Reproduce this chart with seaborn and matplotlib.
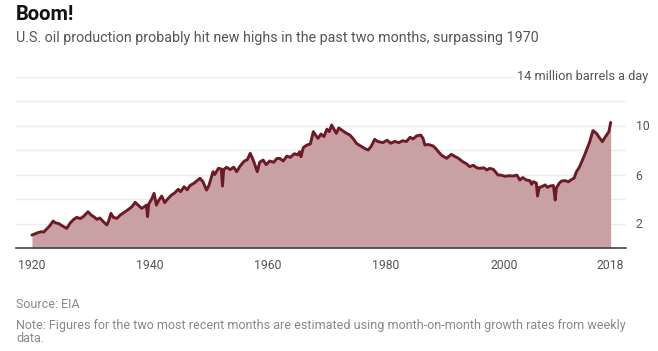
import pandas as pd
import matplotlib.pyplot as plt
import seaborn as sns

# U.S. crude oil production, million barrels a day
dates = [
    1920.0, 1920.5, 1921.0, 1921.6, 1922.0, 1922.5, 1923.0, 1923.6, 1924.0, 1924.5,
    1925.0, 1925.9, 1926.5, 1927.0, 1927.6, 1928.2, 1928.8, 1929.5, 1930.0, 1930.5,
    1931.0, 1931.5, 1932.0, 1932.7, 1933.0, 1933.4, 1933.8, 1934.4, 1935.0, 1935.8,
    1936.5, 1937.0, 1937.5, 1938.0, 1938.6, 1939.0, 1939.4, 1939.6, 1939.8, 1940.3,
    1940.7, 1941.1, 1941.5, 1942.0, 1942.5, 1943.0, 1943.6, 1944.2, 1944.8, 1945.2,
    1945.8, 1946.3, 1946.8, 1947.5, 1948.5, 1949.0, 1949.6, 1950.0, 1950.7, 1951.0,
    1951.6, 1952.1, 1952.3, 1952.5, 1953.0, 1953.6, 1954.2, 1954.7, 1955.3, 1956.0,
    1956.5, 1957.0, 1957.5, 1958.2, 1958.6, 1959.2, 1959.7, 1960.3, 1961.0, 1961.5,
    1962.0, 1962.6, 1963.2, 1963.8, 1964.5, 1965.0, 1965.4, 1965.6, 1966.0, 1966.6,
    1967.2, 1967.7, 1968.1, 1968.5, 1969.0, 1969.5, 1970.0, 1970.4, 1970.8, 1971.2,
    1971.6, 1972.0, 1972.5, 1973.2, 1973.9, 1974.5, 1975.0, 1975.8, 1976.5, 1977.0,
    1977.5, 1978.1, 1978.6, 1979.5, 1980.2, 1980.8, 1981.5, 1982.2, 1982.8, 1983.5,
    1984.1, 1984.6, 1985.2, 1985.9, 1986.3, 1986.6, 1987.2, 1988.0, 1988.5, 1989.0,
    1989.5, 1990.3, 1991.1, 1991.6, 1992.3, 1993.0, 1993.6, 1994.2, 1994.8, 1995.4,
    1995.9, 1996.6, 1997.1, 1997.6, 1998.2, 1998.6, 1999.0, 1999.5, 2000.2, 2000.8,
    2001.6, 2002.2, 2002.7, 2003.2, 2003.8, 2004.4, 2004.7, 2005.0, 2005.5, 2005.7,
    2006.0, 2006.4, 2007.0, 2007.4, 2007.8, 2008.4, 2008.7, 2008.9, 2009.4, 2009.8,
    2010.4, 2010.9, 2011.5, 2011.9, 2012.3, 2012.8, 2013.2, 2013.6, 2014.0, 2014.5,
    2015.1, 2015.7, 2016.2, 2016.7, 2017.1, 2017.4, 2017.8, 2018.1,
]
production = [
    1.06, 1.15, 1.25, 1.33, 1.30, 1.55, 1.80, 2.20, 2.05, 2.00,
    1.85, 1.60, 2.05, 2.30, 2.50, 2.40, 2.60, 2.96, 2.70, 2.55,
    2.34, 2.45, 2.20, 1.88, 2.20, 2.83, 2.50, 2.42, 2.70, 2.96,
    3.20, 3.40, 3.73, 3.50, 3.24, 3.35, 3.50, 2.56, 3.60, 4.00,
    4.46, 3.50, 3.90, 4.24, 3.70, 4.00, 4.30, 4.50, 4.79, 4.60,
    5.00, 4.75, 5.10, 5.30, 5.69, 5.40, 4.73, 5.10, 6.23, 6.00,
    6.50, 6.45, 5.06, 6.40, 6.59, 6.40, 6.60, 6.23, 6.70, 7.10,
    7.20, 7.73, 7.20, 6.23, 7.00, 7.18, 6.80, 7.10, 7.00, 7.30,
    7.32, 7.10, 7.50, 7.40, 7.70, 7.60, 7.86, 7.45, 8.20, 8.40,
    8.50, 9.50, 9.20, 8.95, 9.30, 9.10, 9.70, 9.50, 10.04, 9.70,
    9.36, 9.80, 9.63, 9.40, 9.22, 8.90, 8.54, 8.30, 8.10, 8.00,
    8.30, 8.87, 8.70, 8.60, 8.80, 8.55, 8.70, 8.60, 8.75, 8.70,
    9.04, 8.90, 9.15, 9.22, 8.95, 8.41, 8.45, 8.33, 8.10, 7.80,
    7.55, 7.32, 7.65, 7.50, 7.32, 7.05, 6.90, 6.64, 6.75, 6.55,
    6.50, 6.55, 6.37, 6.50, 6.42, 6.20, 5.96, 5.95, 5.85, 5.90,
    5.88, 5.95, 5.55, 5.75, 5.55, 5.50, 5.20, 5.41, 5.30, 4.24,
    4.95, 5.00, 5.15, 4.95, 5.06, 5.10, 3.92, 4.90, 5.30, 5.47,
    5.50, 5.40, 5.60, 5.70, 6.23, 6.60, 7.05, 7.50, 8.00, 8.60,
    9.58, 9.36, 9.00, 8.68, 9.00, 9.22, 9.50, 10.25,
]
year_ticks = [1920, 1940, 1960, 1980, 2000, 2018]
grid_levels = [2, 4, 6, 8, 10, 12]
label_levels = [2, 6, 10]

df = pd.DataFrame({'year': dates, 'mbd': production})

sns.set_style('white')
plt.rcParams['font.family'] = ['Roboto', 'DejaVu Sans']

fig = plt.figure(figsize=(6.58, 3.51), dpi=100)
ax = fig.add_axes([16 / 658, 103 / 351, 610 / 658, 171.5 / 351])

line_col = '#6e1a24'
fill_col = '#c9a1a4'

# light gridlines, the top one stops short of the unit label
for g in grid_levels:
    ax.axhline(g, color='#ececec', lw=1, zorder=0)
ax.axhline(14, xmax=0.815, color='#ececec', lw=1, zorder=0)

ax.fill_between(df['year'], df['mbd'], 0, color=fill_col, lw=0, zorder=1)
sns.lineplot(data=df, x='year', y='mbd', ax=ax, color=line_col, lw=2.1, zorder=2)

ax.set_xlim(1917.3, 2020.7)
ax.set_ylim(0, 14)
ax.set_xlabel('')
ax.set_ylabel('')

ax.set_xticks(year_ticks)
ax.set_xticklabels([str(y) for y in year_ticks], fontsize=8.8, color='#555555')
ax.tick_params(axis='x', length=4, width=1, color='#444444', pad=4)

ax.yaxis.tick_right()
ax.set_yticks(label_levels)
ax.set_yticklabels([str(v) for v in label_levels], fontsize=8.8, color='#555555')
ax.tick_params(axis='y', length=0, pad=7)

for side in ['top', 'left', 'right']:
    ax.spines[side].set_visible(False)
ax.spines['bottom'].set_color('#444444')
ax.spines['bottom'].set_linewidth(1.2)

ax.text(1.037, 14, '14 million barrels a day', transform=ax.get_yaxis_transform(),
        ha='right', va='center', fontsize=9.2, color='#555555')

fig.text(16 / 658, 1 - 15 / 351, 'Boom!', fontsize=14.5, fontweight='bold',
         color='#111111', va='center', ha='left')
fig.text(16 / 658, 1 - 38 / 351,
         'U.S. oil production probably hit new highs in the past two months, surpassing 1970',
         fontsize=10.3, color='#555555', va='center', ha='left')

fig.text(16 / 658, 1 - 304 / 351, 'Source: EIA', fontsize=9, color='#888888',
         va='center', ha='left')
fig.text(16 / 658, 1 - 325 / 351,
         'Note: Figures for the two most recent months are estimated using month-on-month growth rates from weekly',
         fontsize=9, color='#888888', va='center', ha='left')
fig.text(16 / 658, 1 - 339 / 351, 'data.', fontsize=9, color='#888888',
         va='center', ha='left')

fig.savefig('out.png', dpi=100)
